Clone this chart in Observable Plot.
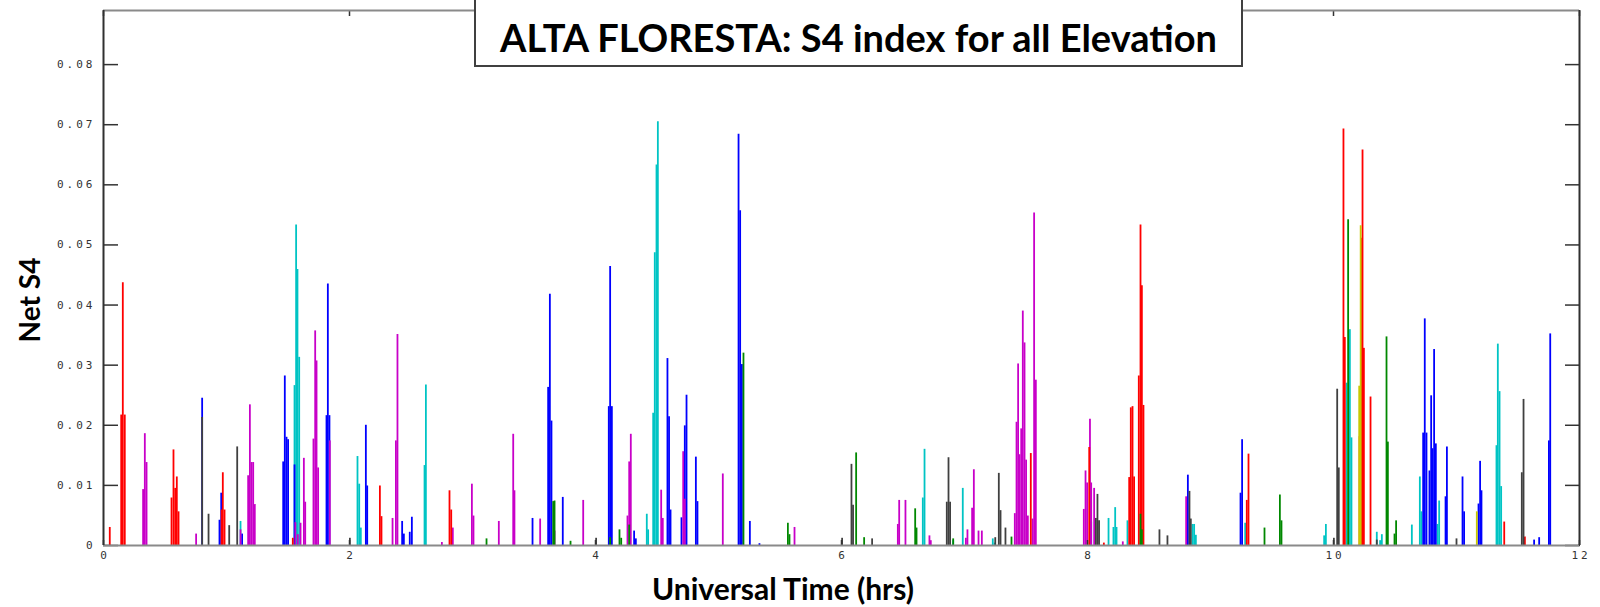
<!DOCTYPE html>
<html>
<head>
<meta charset="utf-8">
<script src="https://cdn.jsdelivr.net/npm/d3@7"></script>
<script src="https://cdn.jsdelivr.net/npm/@observablehq/plot@0.6"></script>
<style>
  html, body { margin: 0; padding: 0; background: #fff; }
  #wrap { position: relative; width: 1600px; height: 607px; overflow: hidden; }
  #chart svg text { font-family: "DejaVu Sans Mono", monospace; letter-spacing: 3px; }
  .title {
    position: absolute; left: 474px; top: -3px; width: 765px; height: 66px;
    border: 2px solid #404040; background: #fff; box-sizing: content-box;
    font-family: Lato, "Open Sans", sans-serif; font-weight: 700; font-size: 38px;
    color: #000; text-align: center; line-height: 77px; white-space: nowrap;
  }
  .xlab {
    position: absolute; left: 583px; width: 400px; top: 570px; text-align: center;
    font-family: Lato, "Open Sans", sans-serif; font-weight: 700; font-size: 30px; color: #000;
    line-height: normal; white-space: nowrap;
  }
  .ylab {
    position: absolute; left: 29px; top: 300px; transform: translate(-50%, -50%) rotate(-90deg);
    font-family: Lato, "Open Sans", sans-serif; font-weight: 700; font-size: 28px; color: #000;
    white-space: nowrap;
  }
</style>
</head>
<body>
<div id="wrap">
  <div id="chart"></div>
  <div class="title">ALTA FLORESTA: S4 index for all Elevation</div>
  <div class="xlab">Universal Time (hrs)</div>
  <div class="ylab">Net S4</div>
</div>
<script>
// Net S4 spikes per satellite track, as [universal time (hrs), S4]
const cyanTrack = [
  [1.114, 0.0040],
  [1.553, 0.0266], [1.566, 0.0533], [1.577, 0.0459], [1.591, 0.0313],
  [2.065, 0.0148], [2.079, 0.0102], [2.092, 0.0029],
  [2.610, 0.0133], [2.621, 0.0267],
  [4.417, 0.0052], [4.428, 0.0026],
  [4.469, 0.0220], [4.482, 0.0487], [4.496, 0.0633], [4.507, 0.0705],
  [6.661, 0.0079], [6.675, 0.0160],
  [6.908, 0.0008], [6.986, 0.0095],
  [7.230, 0.0011], [7.245, 0.0004],
  [8.030, 0.0039],
  [8.171, 0.0045], [8.211, 0.0030], [8.225, 0.0063], [8.236, 0.0030],
  [8.325, 0.0041],
  [8.854, 0.0035], [8.867, 0.0035], [8.881, 0.0017],
  [9.282, 0.0037],
  [9.924, 0.0016], [9.938, 0.0035],
  [10.106, 0.0270], [10.133, 0.0359], [10.146, 0.0179],
  [10.352, 0.0022], [10.379, 0.0008], [10.393, 0.0018],
  [10.637, 0.0034],
  [10.702, 0.0114], [10.715, 0.0056],
  [10.846, 0.0035], [10.859, 0.0074],
  [11.325, 0.0166], [11.336, 0.0335], [11.350, 0.0256], [11.363, 0.0098]
];
const blueTrack = [
  [0.802, 0.0245],
  [0.943, 0.0042], [0.957, 0.0087],
  [1.127, 0.0019],
  [1.461, 0.0139], [1.474, 0.0282], [1.488, 0.0180], [1.501, 0.0176],
  [1.553, 0.0134],
  [1.813, 0.0216], [1.824, 0.0435], [1.837, 0.0216],
  [2.133, 0.0200], [2.144, 0.0099],
  [2.428, 0.0040], [2.442, 0.0019],
  [2.490, 0.0022], [2.507, 0.0047],
  [3.488, 0.0045],
  [3.615, 0.0263], [3.629, 0.0418], [3.642, 0.0207],
  [3.734, 0.0080],
  [4.108, 0.0231], [4.119, 0.0464], [4.133, 0.0231],
  [4.314, 0.0024], [4.328, 0.0011],
  [4.585, 0.0311], [4.598, 0.0214], [4.610, 0.0059],
  [4.699, 0.0046], [4.726, 0.0199], [4.740, 0.0250],
  [4.816, 0.0147], [4.829, 0.0073],
  [5.163, 0.0684], [5.176, 0.0557], [5.190, 0.0301],
  [5.255, 0.0040], [5.333, 0.0003],
  [8.816, 0.0117],
  [9.244, 0.0087], [9.257, 0.0176],
  [10.729, 0.0187], [10.742, 0.0377], [10.756, 0.0187], [10.780, 0.0124],
  [10.794, 0.0249], [10.805, 0.0161], [10.818, 0.0326], [10.832, 0.0169],
  [10.911, 0.0081], [10.922, 0.0164],
  [11.049, 0.0114], [11.062, 0.0056],
  [11.179, 0.0069], [11.192, 0.0140], [11.203, 0.0091],
  [11.631, 0.0009], [11.672, 0.0013],
  [11.751, 0.0174], [11.762, 0.0352]
];
const magentaTrack = [
  [0.322, 0.0093], [0.336, 0.0186], [0.350, 0.0138],
  [0.753, 0.0019],
  [1.114, 0.0026],
  [1.176, 0.0116], [1.190, 0.0234], [1.203, 0.0138], [1.217, 0.0138], [1.230, 0.0068],
  [1.560, 0.0038], [1.580, 0.0018], [1.602, 0.0037],
  [1.629, 0.0145], [1.640, 0.0072],
  [1.707, 0.0177], [1.721, 0.0357], [1.732, 0.0307], [1.745, 0.0129],
  [1.840, 0.0174],
  [2.350, 0.0045], [2.377, 0.0174], [2.390, 0.0351],
  [2.751, 0.0005], [2.840, 0.0029],
  [2.995, 0.0102], [3.008, 0.0049],
  [3.214, 0.0040],
  [3.331, 0.0185], [3.341, 0.0091],
  [3.550, 0.0044], [3.667, 0.0024], [3.900, 0.0075],
  [4.260, 0.0049], [4.274, 0.0139], [4.287, 0.0185],
  [4.534, 0.0092], [4.547, 0.0045],
  [4.713, 0.0156], [4.726, 0.0077],
  [5.035, 0.0119],
  [5.618, 0.0030],
  [6.458, 0.0035], [6.469, 0.0075], [6.520, 0.0075],
  [6.715, 0.0016], [6.726, 0.0008],
  [7.011, 0.0012], [7.024, 0.0026],
  [7.062, 0.0062], [7.076, 0.0126],
  [7.114, 0.0024], [7.141, 0.0024],
  [7.409, 0.0053], [7.423, 0.0205], [7.436, 0.0302], [7.447, 0.0151], [7.461, 0.0194],
  [7.474, 0.0390], [7.488, 0.0337], [7.501, 0.0142], [7.515, 0.0049],
  [7.553, 0.0044], [7.566, 0.0553], [7.580, 0.0275],
  [7.970, 0.0060], [7.984, 0.0124], [7.997, 0.0104], [8.020, 0.0210], [8.030, 0.0104],
  [8.054, 0.0095],
  [8.287, 0.0006],
  [8.802, 0.0081]
];
const redTrack = [
  [0.051, 0.0030],
  [0.144, 0.0217], [0.157, 0.0437], [0.173, 0.0217],
  [0.553, 0.0079], [0.569, 0.0159], [0.583, 0.0095], [0.596, 0.0114], [0.610, 0.0056],
  [0.960, 0.0059], [0.970, 0.0121], [0.984, 0.0059],
  [1.539, 0.0012],
  [2.247, 0.0099], [2.260, 0.0048],
  [2.813, 0.0091], [2.827, 0.0059],
  [7.539, 0.0153],
  [8.014, 0.0163],
  [8.133, 0.0004],
  [8.339, 0.0113], [8.352, 0.0229], [8.366, 0.0231], [8.379, 0.0114],
  [8.417, 0.0282], [8.431, 0.0533], [8.442, 0.0432], [8.455, 0.0233],
  [9.295, 0.0075], [9.309, 0.0152],
  [10.081, 0.0693], [10.092, 0.0346],
  [10.212, 0.0181], [10.225, 0.0511], [10.236, 0.0658], [10.247, 0.0328],
  [10.301, 0.0247],
  [11.388, 0.0039], [11.556, 0.0014]
];
const yellowTrack = [
  [10.209, 0.0265], [10.221, 0.0532],
  [11.165, 0.0056]
];
const greenTrack = [
  [3.114, 0.0011],
  [3.656, 0.0073], [3.667, 0.0074],
  [3.797, 0.0007],
  [4.119, 0.0013],
  [4.195, 0.0026], [4.209, 0.0012],
  [4.274, 0.0034],
  [5.203, 0.0320],
  [5.564, 0.0037], [5.577, 0.0018],
  [6.119, 0.0154], [6.184, 0.0013],
  [6.599, 0.0061], [6.610, 0.0029],
  [6.908, 0.0011],
  [7.382, 0.0014],
  [8.431, 0.0052], [8.442, 0.0026],
  [9.439, 0.0029],
  [9.564, 0.0084], [9.577, 0.0041],
  [10.119, 0.0542],
  [10.431, 0.0347], [10.442, 0.0172],
  [10.496, 0.0019], [10.509, 0.0041]
];
const grayTrack = [
  [0.802, 0.0213],
  [0.854, 0.0052],
  [1.022, 0.0033],
  [1.087, 0.0164],
  [2.003, 0.0012],
  [4.005, 0.0012],
  [6.005, 0.0012],
  [6.081, 0.0135], [6.094, 0.0067],
  [6.249, 0.0011],
  [6.856, 0.0072], [6.870, 0.0146], [6.883, 0.0072],
  [7.250, 0.0013],
  [7.279, 0.0120], [7.293, 0.0058],
  [7.333, 0.0029],
  [8.068, 0.0045], [8.081, 0.0085], [8.094, 0.0041],
  [8.585, 0.0026], [8.650, 0.0016],
  [8.829, 0.0090], [8.840, 0.0044],
  [10.003, 0.0012], [10.030, 0.0260], [10.043, 0.0129],
  [10.352, 0.0009],
  [11.000, 0.0011],
  [11.531, 0.0121], [11.545, 0.0243]
];

// drawing order and colour of each track
const tracks = [
  {data: cyanTrack, color: "#00c4c4"},
  {data: blueTrack, color: "#0000ff"},
  {data: magentaTrack, color: "#c800c8"},
  {data: redTrack, color: "#ff0000"},
  {data: yellowTrack, color: "#c8c800"},
  {data: greenTrack, color: "#008800"},
  {data: grayTrack, color: "#404040"}
];

const xTicks = [0, 2, 4, 6, 8, 10, 12];
const yTicks = [0, 0.01, 0.02, 0.03, 0.04, 0.05, 0.06, 0.07, 0.08];
const xMax = 12;
const yMax = 0.089;

const yFormat = d => d === 0 ? "0" : d.toFixed(2);
const noLabel = () => "";

const spikeMarks = tracks.map(t =>
  Plot.ruleX(t.data, {x: d => d[0], y1: 0, y2: d => d[1], stroke: t.color, strokeWidth: 1.8})
);

const tickStyle = {tickFormat: noLabel, stroke: "#333", strokeWidth: 1.5, label: null};

const chart = Plot.plot({
  width: 1600,
  height: 607,
  marginLeft: 103,
  marginRight: 21,
  marginTop: 10,
  marginBottom: 62,
  style: {background: "transparent", overflow: "visible"},
  x: {domain: [0, xMax]},
  y: {domain: [0, yMax]},
  marks: [
    ...spikeMarks,
    // inward ticks on all four sides
    Plot.axisY(yTicks, {anchor: "left", tickSize: 15, dx: 15, ...tickStyle}),
    Plot.axisY(yTicks, {anchor: "right", tickSize: 15, dx: -15, ...tickStyle}),
    Plot.axisX(xTicks, {anchor: "top", tickSize: 5, dy: 5, ...tickStyle}),
    Plot.axisX(xTicks, {anchor: "bottom", tickSize: 5, dy: -5, ...tickStyle}),
    // tick labels
    Plot.axisY(yTicks, {anchor: "left", tickSize: 0, tickPadding: 8, tickFormat: yFormat, fontSize: 11, fill: "#333", label: null}),
    Plot.axisX(xTicks, {anchor: "bottom", tickSize: 0, tickPadding: 6, tickFormat: d => String(d), fontSize: 11, fill: "#333", dx: 1.5, label: null}),
    // frame: dark sides, grey top and bottom
    Plot.ruleY([0, yMax], {stroke: "#8a8a8a", strokeWidth: 2}),
    Plot.ruleX([0, xMax], {stroke: "#303030", strokeWidth: 2})
  ]
});

document.getElementById("chart").appendChild(chart);
</script>
</body>
</html>
